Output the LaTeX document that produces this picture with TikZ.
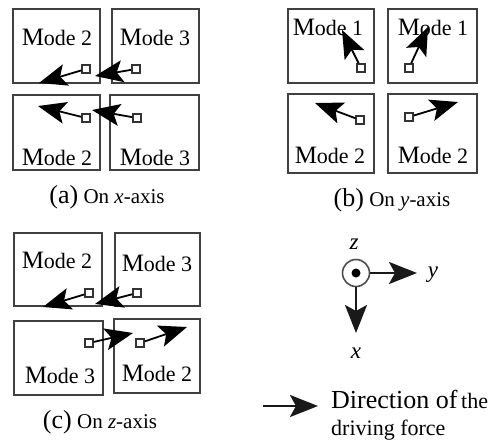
\documentclass[tikz,border=0pt]{standalone}
\usepackage{fontspec}
\setmainfont{Liberation Serif}
\usetikzlibrary{arrows.meta,positioning}

\newcommand{\modetxt}[1]{{\fontsize{25}{29}\selectfont M}ode #1}

\begin{document}
\begin{tikzpicture}[
    x=1pt, y=-1pt,
    font=\fontsize{22}{26}\selectfont,
    modebox/.style={draw=black!75, line width=1.7pt, fill=white,
        inner sep=0pt},
    modelabel/.style={inner sep=0pt},
    sq/.style={draw=black!80, fill=white, line width=1.5pt,
        minimum size=8pt, inner sep=0pt},
    force/.style={-{Stealth[length=28pt,width=22pt,inset=6pt]},
        line width=1.8pt},
    capt/.style={inner sep=0pt, font=\fontsize{21}{25}\selectfont},
]
\useasboundingbox (0,0) rectangle (503,440);

% =====================================================
% (a) On x-axis
% =====================================================
\node[modebox, minimum width=87pt, minimum height=74pt] (a1) at (56.5,46) {};
\node[modebox, minimum width=87pt, minimum height=74pt] (a2) at (155.5,46) {};
\node[modebox, minimum width=87pt, minimum height=75pt] (a3) at (56.5,132.5) {};
\node[modebox, minimum width=89pt, minimum height=75pt] (a4) at (154.5,132.5) {};

\node[modelabel] (la1) at (57,37) {\modetxt{2}};
\node[modelabel] (la2) at (155,37) {\modetxt{3}};
\node[modelabel] (la3) at (57,157) {\modetxt{2}};
\node[modelabel] (la4) at (155,157) {\modetxt{3}};

\node[sq] (sqa1) at (86,69) {};
\node[sq] (sqa2) at (136,69) {};
\node[sq] (sqa3) at (86,118) {};
\node[sq] (sqa4) at (137,118) {};
\coordinate (ta1) at (39,83);
\coordinate (ta2) at (95,76);
\coordinate (ta3) at (38,106);
\coordinate (ta4) at (92,110);
\draw[force] (sqa1) -- (ta1);
\draw[force] (sqa2) -- (ta2);
\draw[force] (sqa3) -- (ta3);
\draw[force] (sqa4) -- (ta4);

\node[capt] (capa) at (107,197)
    {{\fontsize{26}{30}\selectfont (a)} On \textit{x}-axis};

% =====================================================
% (b) On y-axis
% =====================================================
\node[modebox, minimum width=86pt, minimum height=74pt] (b1) at (331,46) {};
\node[modebox, minimum width=89pt, minimum height=74pt] (b2) at (432.5,46) {};
\node[modebox, minimum width=86pt, minimum height=79pt] (b3) at (331,133.5) {};
\node[modebox, minimum width=89pt, minimum height=79pt] (b4) at (432.5,133.5) {};

\node[modelabel] (lb1) at (328,27) {\modetxt{1}};
\node[modelabel] (lb2) at (433,27) {\modetxt{1}};
\node[modelabel] (lb3) at (330,155) {\modetxt{2}};
\node[modelabel] (lb4) at (433,155) {\modetxt{2}};

\node[sq] (sqb1) at (361,68) {};
\node[sq] (sqb2) at (409,68) {};
\node[sq] (sqb3) at (360,120) {};
\node[sq] (sqb4) at (409,117) {};
\coordinate (tb1) at (342,30);
\coordinate (tb2) at (428,27);
\coordinate (tb3) at (315,103);
\coordinate (tb4) at (458,102);
\draw[force] (sqb1) -- (tb1);
\draw[force] (sqb2) -- (tb2);
\draw[force] (sqb3) -- (tb3);
\draw[force] (sqb4) -- (tb4);

\node[capt] (capb) at (392,200)
    {{\fontsize{26}{30}\selectfont (b)} On \textit{y}-axis};

% =====================================================
% (c) On z-axis
% =====================================================
\node[modebox, minimum width=88pt, minimum height=73pt] (c1) at (58,269.5) {};
\node[modebox, minimum width=85pt, minimum height=73pt] (c2) at (157.5,269.5) {};
\node[modebox, minimum width=89pt, minimum height=74pt] (c3) at (58.5,358) {};
\node[modebox, minimum width=86pt, minimum height=74pt] (c4) at (157,356) {};

\node[modelabel] (lc1) at (57,260) {\modetxt{2}};
\node[modelabel] (lc2) at (157,263) {\modetxt{3}};
\node[modelabel] (lc3) at (60,375) {\modetxt{3}};
\node[modelabel] (lc4) at (157,373) {\modetxt{2}};

\node[sq] (sqc1) at (89,293) {};
\node[sq] (sqc2) at (137,293) {};
\node[sq] (sqc3) at (89,343) {};
\node[sq] (sqc4) at (140,343) {};
\coordinate (tc1) at (43,307);
\coordinate (tc2) at (95,304);
\coordinate (tc3) at (133,333);
\coordinate (tc4) at (187,327);
\draw[force] (sqc1) -- (tc1);
\draw[force] (sqc2) -- (tc2);
\draw[force] (sqc3) -- (tc3);
\draw[force] (sqc4) -- (tc4);

\node[capt] (capc) at (100,422)
    {{\fontsize{26}{30}\selectfont (c)} On \textit{z}-axis};

% =====================================================
% Axes
% =====================================================
\node[circle, draw=black!70, line width=1.6pt, minimum size=27pt,
    inner sep=0pt] (orig) at (356,273) {};
\node[circle, fill=black, minimum size=9pt, inner sep=0pt] (dot) at (orig) {};
\coordinate (ytip) at (417,273);
\coordinate (xtip) at (356,333);
\draw[force, black!90, line width=2.8pt] (orig.east) -- (ytip);
\draw[force, black!90, line width=2.8pt] (orig.south) -- (xtip);
\node[inner sep=0pt, font=\fontsize{23}{27}\selectfont\itshape]
    (ylab) at (433,275) {y};
\node[inner sep=0pt, font=\fontsize{23}{27}\selectfont\itshape]
    (xlab) at (356,353) {x};
\node[inner sep=0pt, font=\fontsize{23}{27}\selectfont\itshape]
    (zlab) at (354,244) {z};

% =====================================================
% Legend
% =====================================================
\coordinate (lgs) at (263,406);
\coordinate (lge) at (318,406);
\draw[force, black!90, line width=2.8pt] (lgs) -- (lge);
\node[anchor=base west, inner sep=0pt] (lgt1) at (331,408)
    {{\fontsize{26}{30}\selectfont Direction of}\,the};
\node[anchor=base west, inner sep=0pt] (lgt2) at (331,435)
    {driving force};

\end{tikzpicture}
\end{document}
